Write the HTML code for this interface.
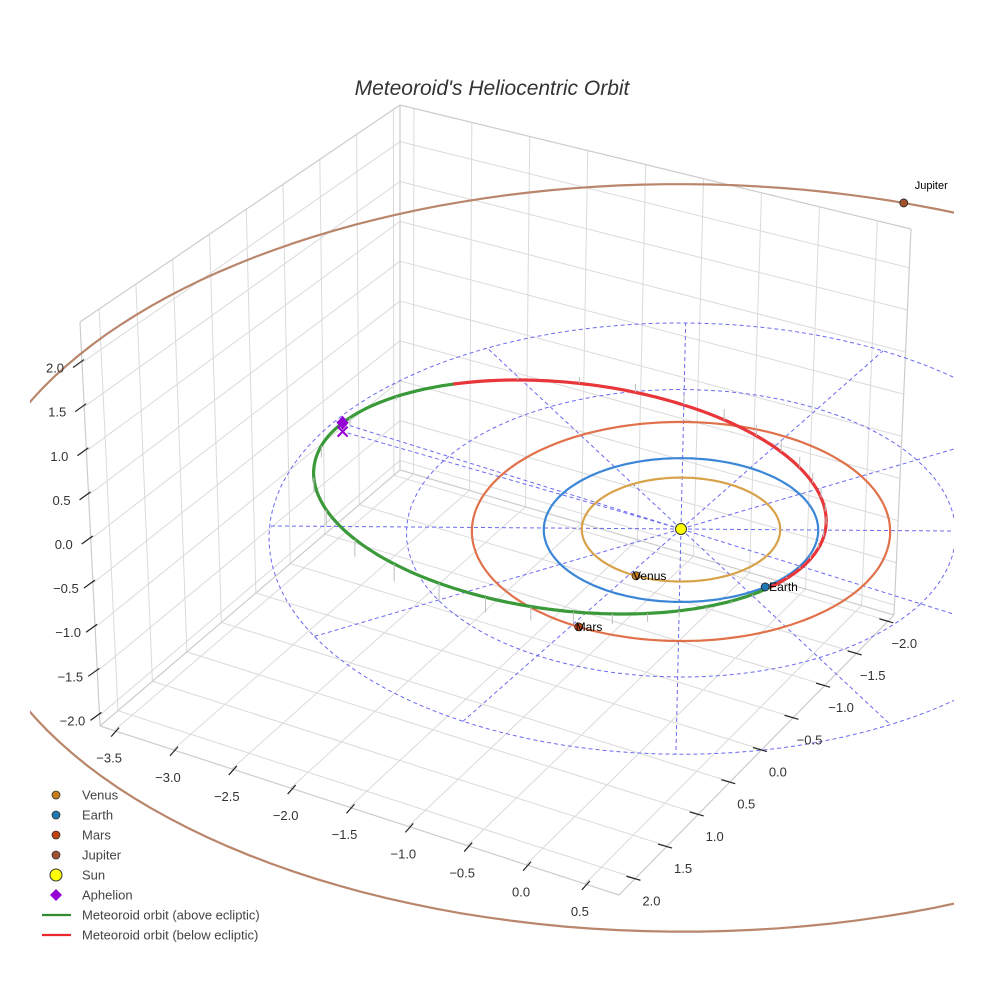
<!DOCTYPE html>
<html><head><meta charset="utf-8">
<style>
html,body{margin:0;padding:0;background:#fff;}
svg{display:block;font-family:"Liberation Sans",sans-serif;}
</style></head>
<body>
<svg id="chart" width="984" height="984" viewBox="0 0 984 984" xmlns="http://www.w3.org/2000/svg">
<defs><clipPath id="clip"><rect x="30" y="0" width="924" height="984"/></clipPath></defs>
<rect width="984" height="984" fill="#fff"/>
<g id="box"></g>
<g id="plot" clip-path="url(#clip)"></g>
<g id="ticks"></g>
<text x="492" y="95" text-anchor="middle" font-size="21" font-style="italic" fill="#333">Meteoroid's Heliocentric Orbit</text>
<g id="legend"></g>
</svg>
<script>
// ---- data ----
const xTicks = [-3.5,-3.0,-2.5,-2.0,-1.5,-1.0,-0.5,0.0,0.5];
const yTicks = [-2.0,-1.5,-1.0,-0.5,0.0,0.5,1.0,1.5,2.0];
const zTicks = [-2.0,-1.5,-1.0,-0.5,0.0,0.5,1.0,1.5,2.0];
const planetNames = ["Venus","Earth","Mars","Jupiter"];
const planetRadii = [0.723,1.0,1.524,5.2];
const planetLongitudes = [86,22,88,259];
const planetColors = ["#c97d1c","#1f77b4","#c1440e","#a0522d"];
const orbitColors = ["#d8a24a","#3b86d6","#e0714a","#b9866c"];
const gridRings = [1.0,2.0,3.0];
const gridSpokes = [0,30,60,90,120,150,180,210,240,270,300,330];
const meteorPerihelion = [1.0];
const meteorAphelion = [2.87];
const meteorPeriLongitude = [-2];
const meteorInclination = [6];
const meteorNodeLongitude = [20];

const NS="http://www.w3.org/2000/svg";
function mk(tag,attrs,parent){const e=document.createElementNS(NS,tag);for(const k in attrs)e.setAttribute(k,attrs[k]);parent.appendChild(e);return e;}
const box=document.getElementById('box'), plot=document.getElementById('plot'), ticksG=document.getElementById('ticks'), legend=document.getElementById('legend');

// ---- axis box (scene) ----
const xmin=-3.62,xmax=0.79,ymin=-2.09,ymax=2.26,zmin=-2.12,zmax=2.46;
const Bb=[400,470],Lb=[100,726],F=[619,895],Rb=[894,615],Bt=[400,105],Lt=[80,322],Rt=[911,229];
function bl(a,b,c,d,s,t){
  return [(1-s)*(1-t)*a[0]+s*(1-t)*b[0]+(1-s)*t*c[0]+s*t*d[0],(1-s)*(1-t)*a[1]+s*(1-t)*b[1]+(1-s)*t*c[1]+s*t*d[1]];}
const sx=x=>(x-xmin)/(xmax-xmin), sy=y=>(y-ymin)/(ymax-ymin), sz=z=>(z-zmin)/(zmax-zmin);
function floorP(x,y){return bl(Bb,Rb,Lb,F,sx(x),sy(y));}
function leftWall(y,z){return bl(Bb,Lb,Bt,Lt,sy(y),sz(z));}
function rightWall(x,z){return bl(Bb,Rb,Bt,Rt,sx(x),sz(z));}
function line(p,q,attrs,parent){return mk('line',Object.assign({x1:p[0],y1:p[1],x2:q[0],y2:q[1]},attrs),parent);}
const gA={stroke:"#dadada","stroke-width":1};
yTicks.forEach(y=>{let l=line(leftWall(y,zmin),leftWall(y,zmax),gA,box);

l=line(floorP(xmin,y),floorP(xmax,y),gA,box);
});
xTicks.forEach(x=>{let l=line(rightWall(x,zmin),rightWall(x,zmax),gA,box);

l=line(floorP(x,ymin),floorP(x,ymax),gA,box);
});
zTicks.forEach(z=>{let l=line(leftWall(ymin,z),leftWall(ymax,z),gA,box);

l=line(rightWall(xmin,z),rightWall(xmax,z),gA,box);
});
const eA={stroke:"#cccccc","stroke-width":1.2};
[[Bb,Bt],[Lb,Lt],[Rb,Rt],[Bb,Lb],[Bb,Rb],[Lb,F],[Rb,F],[Bt,Lt],[Bt,Rt]].forEach(pq=>{const l=line(pq[0],pq[1],eA,box);
});

// ticks
const tA={stroke:"#222","stroke-width":1.2};
const lblA={"font-size":13,fill:"#333","text-anchor":"middle"};
const fmt=v=>(v<0?"\u2212":"")+Math.abs(v).toFixed(1);
zTicks.forEach(z=>{const p=leftWall(ymax,z);
const l=line([p[0]-9,p[1]+5],[p[0]+2,p[1]-3],tA,ticksG);

const t=mk('text',Object.assign({x:p[0]-27,y:p[1]+10},lblA),ticksG);t.textContent=fmt(z);
});
xTicks.forEach(x=>{const p=floorP(x,ymax);
const l=line([p[0]+5,p[1]-3],[p[0]-3,p[1]+6],tA,ticksG);

const t=mk('text',Object.assign({x:p[0]-5,y:p[1]+32},lblA),ticksG);t.textContent=fmt(x);
});
yTicks.forEach(y=>{const p=floorP(xmax,y);
const l=line([p[0]-9,p[1]-2],[p[0]+5,p[1]+2],tA,ticksG);

const t=mk('text',Object.assign({x:p[0]+16,y:p[1]+27},lblA),ticksG);t.textContent=fmt(y);
});

// ---- heliocentric projection ----
function P(X,Y,Z){Z=Z||0;const ox=118*X-70*Y, oy=34*X+57*Y;const f=1+0.000224*oy;
  return [681+ox*f, 529+(1.083*oy-80*Z)*f];}
const rad=d=>d*Math.PI/180;
function polar(r,lon){return [r*Math.cos(rad(lon)),r*Math.sin(rad(lon))];}
function pathFrom(pts){return pts.map((p,i)=>(i?"L":"M")+p[0].toFixed(1)+" "+p[1].toFixed(1)).join(" ");}
function circlePts(r){const a=[];for(let d=0;d<=360;d+=2){const q=polar(r,d);a.push(P(q[0],q[1],0));}return a;}

// polar grid
const dashA={fill:"none",stroke:"#6a6af0","stroke-width":1,"stroke-dasharray":"4,3"};
gridRings.forEach(r=>{const e=mk('path',Object.assign({d:pathFrom(circlePts(r))},dashA),plot);
});
const rmax=Math.max(...gridRings);
gridSpokes.forEach(d=>{const q=polar(rmax,d);const e=line(P(0,0,0),P(q[0],q[1],0),dashA,plot);
});

// planet orbits
planetRadii.forEach((r,i)=>{const e=mk('path',{d:pathFrom(circlePts(r)),fill:"none",stroke:orbitColors[i],"stroke-width":2.2},plot);
});

// meteoroid orbit
const q0=meteorPerihelion[0],Q0=meteorAphelion[0],a0=(q0+Q0)/2,e0=(Q0-q0)/(Q0+q0),p0=a0*(1-e0*e0);
const inc=rad(meteorInclination[0]);
function meteor(lon){const nu=rad(lon-meteorPeriLongitude[0]);const r=p0/(1+e0*Math.cos(nu));
  const xy=polar(r,lon);return [xy[0],xy[1],r*Math.sin(inc)*Math.sin(rad(lon-meteorNodeLongitude[0]))];}
const n0=meteorNodeLongitude[0];
let seg=[],segUp=null;
function flush(){if(seg.length>1){const e=mk('path',{d:pathFrom(seg),fill:"none",stroke:segUp?"#3a9a3a":"#e8363a","stroke-width":3.2,"stroke-linecap":"round"},plot);
}}
for(let d=n0;d<=n0+360;d+=1){const m=meteor(d);const u=(d>n0&&d<n0+180);
  const spt=P(m[0],m[1],m[2]);
  if(segUp===null)segUp=u;
  if(u!==segUp){seg.push(spt);flush();seg=[seg[seg.length-1]];segUp=u;}
  seg.push(spt);}
flush();
// stems
for(let d=0;d<360;d+=10){const m=meteor(d);const a=P(m[0],m[1],m[2]),b=P(m[0],m[1],0);
  const l=line(a,b,{stroke:"#bdbdbd","stroke-width":1},plot);
  }

// aphelion
const aph=meteor(meteorPeriLongitude[0]+180);const ap=P(aph[0],aph[1],aph[2]),ap0=P(aph[0],aph[1],0);
const asp=line(P(0,0,0),ap0,dashA,plot);

const ax=mk('path',{d:`M${ap0[0]-5} ${ap0[1]-5}L${ap0[0]+5} ${ap0[1]+5}M${ap0[0]+5} ${ap0[1]-5}L${ap0[0]-5} ${ap0[1]+5}`,stroke:"#9400d3","stroke-width":2},plot);

const ad=mk('path',{d:`M${ap[0]} ${ap[1]-7}L${ap[0]+6} ${ap[1]}L${ap[0]} ${ap[1]+7}L${ap[0]-6} ${ap[1]}Z`,fill:"#9400d3"},plot);


// sun
const sp=P(0,0,0);
const sun=mk('circle',{cx:sp[0],cy:sp[1],r:5.5,fill:"#ffff00",stroke:"#333","stroke-width":1},plot);


// planets
planetNames.forEach((n,i)=>{const q=polar(planetRadii[i],planetLongitudes[i]);const p=P(q[0],q[1],0);
  const c=mk('circle',{cx:p[0],cy:p[1],r:4,fill:planetColors[i],stroke:"#222","stroke-width":0.8},plot);
  
  const t=mk('text',i===3?{x:p[0]+11,y:p[1]-14,"font-size":11,fill:"#000"}:{x:p[0]+(i===1?4:-3),y:p[1]+4,"font-size":12,fill:"#000"},plot);
  t.textContent=n;
  });

// legend
const legItems=[["Venus","c",planetColors[0]],["Earth","c",planetColors[1]],["Mars","c",planetColors[2]],["Jupiter","c",planetColors[3]],["Sun","sun","#ffff00"],["Aphelion","d","#9400d3"],["Meteoroid orbit (above ecliptic)","l","#2e8b2e"],["Meteoroid orbit (below ecliptic)","l","#e8282c"]];
legItems.forEach((it,i)=>{const y=795+i*20;const g=mk('g',{},legend);
  
  
  if(it[1]==="c")mk('circle',{cx:56,cy:y,r:4,fill:it[2],stroke:"#333","stroke-width":0.8},g);
  else if(it[1]==="sun")mk('circle',{cx:56,cy:y,r:6,fill:it[2],stroke:"#333","stroke-width":1},g);
  else if(it[1]==="d")mk('path',{d:`M56 ${y-6}L62 ${y}L56 ${y+6}L50 ${y}Z`,fill:it[2]},g);
  else mk('line',{x1:42,y1:y,x2:71,y2:y,stroke:it[2],"stroke-width":2.2},g);
  const t=mk('text',{x:82,y:y+4.5,"font-size":13,fill:"#444"},g);t.textContent=it[0];});
</script>
</body></html>
